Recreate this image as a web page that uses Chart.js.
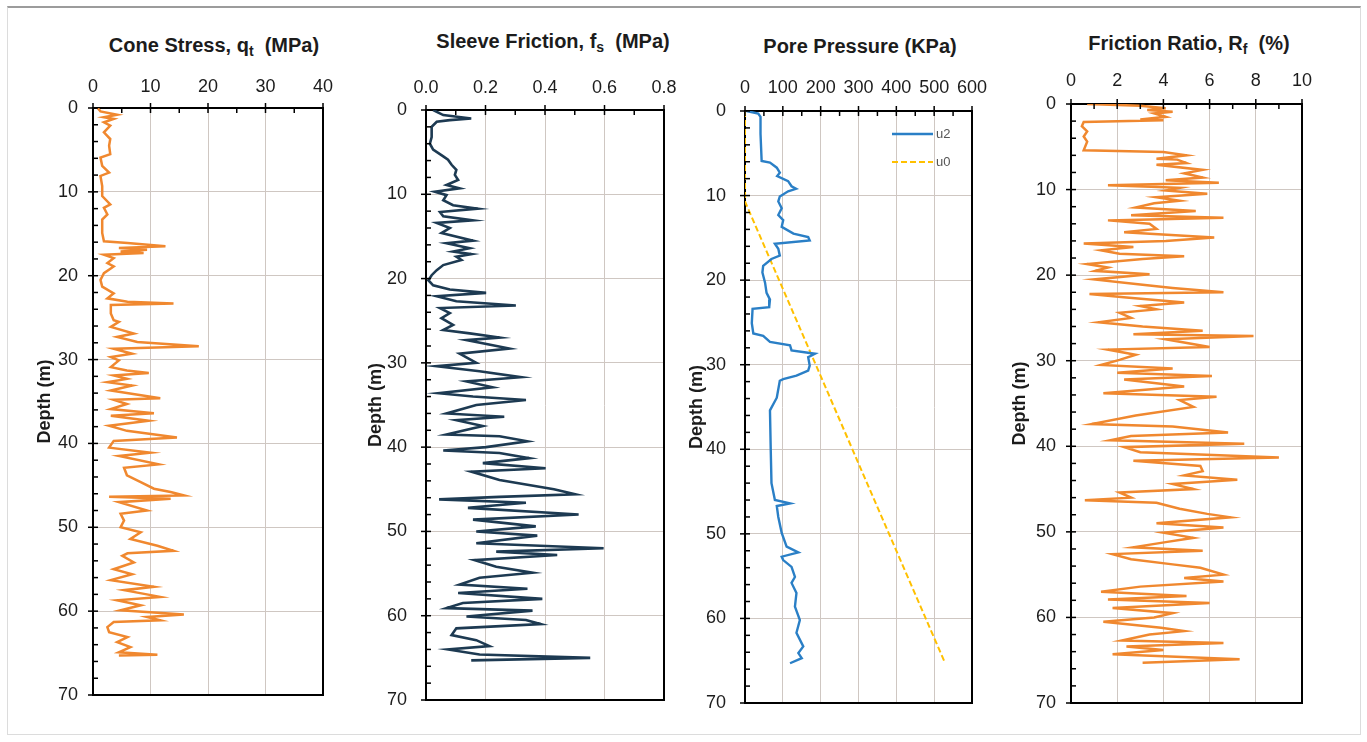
<!DOCTYPE html>
<html>
<head>
<meta charset="utf-8">
<title>CPT profile</title>
<script src="https://cdn.jsdelivr.net/npm/chart.js@4.4.1/dist/chart.umd.min.js"></script>
<style>
  html, body { margin: 0; padding: 0; background: #fff; }
  body { width: 1367px; height: 742px; position: relative; overflow: hidden;
         font-family: "Liberation Sans", Arial, sans-serif; }
  .sheet { position: absolute; left: 7px; top: 6px; width: 1352px; height: 726px;
           border: 1px solid #dcdcdc; border-top: 2px solid #9c9c9c; }
  canvas { position: absolute; top: 0; }
  .ttl { position: absolute; transform: translateX(-50%); white-space: nowrap;
         font-weight: bold; font-size: 20px; line-height: 20px; color: #1c1c1c; }
  .ttl sub { font-size: 14px; line-height: 0; vertical-align: -4px; }
</style>
</head>
<body>
<div class="sheet"></div>

<div class="ttl" style="left:214px; top:35px">Cone Stress, q<sub>t</sub>&nbsp; (MPa)</div>
<div class="ttl" style="left:553px; top:31px">Sleeve Friction, f<sub>s</sub>&nbsp; (MPa)</div>
<div class="ttl" style="left:860px; top:36px">Pore Pressure (KPa)</div>
<div class="ttl" style="left:1189px; top:33px">Friction Ratio, R<sub>f</sub>&nbsp; (%)</div>

<canvas id="qt" width="345" height="742" style="left:0px"></canvas>
<canvas id="fs" width="335" height="742" style="left:345px"></canvas>
<canvas id="pp" width="315" height="742" style="left:680px"></canvas>
<canvas id="rf" width="345" height="742" style="left:995px"></canvas>

<script>
// ---- tick labels ----
const depthTicks = ['0', '10', '20', '30', '40', '50', '60', '70'];
const qtTicks = ['0', '10', '20', '30', '40'];
const fsTicks = ['0.0', '0.2', '0.4', '0.6', '0.8'];
const ppTicks = ['0', '100', '200', '300', '400', '500', '600'];
const rfTicks = ['0', '2', '4', '6', '8', '10'];

// ---- cone stress qt (MPa) vs depth (m) ----
const qtDepth = [0, 0.4, 0.8, 1.1, 1.3, 1.7, 2.1, 2.9, 3.7, 4.5,
  5.5, 5.9, 6.9, 7.7, 8.1, 9.3, 10.5, 11.5, 11.9, 12.7,
  13.3, 14.9, 15.9, 16.1, 16.5, 16.7, 16.9, 17.1, 17.3, 17.5,
  17.9, 18.5, 18.9, 19.7, 20.5, 21.3, 22.1, 22.7, 23.1, 23.3,
  23.5, 24.5, 25.3, 25.5, 26.1, 26.9, 27.3, 27.9, 28.4, 28.7,
  29.3, 29.7, 30.1, 30.9, 31.3, 31.6, 31.9, 32.3, 32.7, 33.1,
  33.7, 34.6, 34.8, 35.3, 35.9, 36.4, 36.7, 37.3, 37.9, 38.5,
  39.3, 39.7, 40.5, 41.1, 41.5, 42.5, 42.9, 43.8, 44.6, 45.4,
  45.8, 46.2, 46.35, 46.6, 47.0, 48.0, 48.4, 49.2, 50.0, 50.6,
  51.4, 52.2, 52.8, 53.1, 53.4, 54.2, 55.0, 55.6, 56.3, 57.1,
  57.5, 58.3, 58.7, 59.3, 59.9, 60.4, 60.7, 61.1, 61.3, 61.9,
  62.5, 63.1, 63.7, 64.3, 64.9, 65.2, 65.3];
const qtVals = [0.8, 1.3, 4.2, 1.9, 3.6, 1.9, 3.0, 1.9, 3.0, 2.8,
  3.0, 1.3, 1.6, 2.8, 1.3, 1.6, 1.6, 3.0, 1.9, 2.5,
  1.6, 1.6, 1.9, 6.0, 12.6, 4.5, 9.4, 4.8, 8.8, 1.9,
  3.6, 2.5, 3.6, 1.9, 1.3, 1.6, 3.6, 2.5, 6.0, 14.0,
  3.1, 3.1, 3.6, 4.5, 3.1, 7.1, 4.2, 7.7, 18.4, 3.6,
  6.8, 3.1, 4.5, 3.1, 5.9, 9.7, 3.6, 5.9, 2.5, 6.8,
  3.1, 11.7, 3.6, 5.9, 3.1, 10.6, 3.1, 9.7, 2.8, 5.9,
  14.6, 3.6, 2.8, 10.0, 4.5, 11.4, 5.4, 5.9, 8.3, 10.6,
  13.5, 15.8, 2.8, 13.5, 4.5, 9.4, 4.8, 5.4, 4.8, 8.3,
  6.5, 11.2, 14.0, 6.0, 5.1, 7.1, 3.6, 6.8, 3.1, 10.6,
  5.4, 11.7, 4.2, 8.3, 4.8, 15.8, 9.4, 11.7, 3.6, 2.5,
  2.8, 6.0, 4.2, 6.5, 4.5, 11.2, 4.5];

// ---- sleeve friction fs (MPa) ----
const fsDepth = [0, 0.6, 1.0, 1.2, 1.4, 2.0, 3.2, 4.0, 4.7, 5.5,
  5.9, 6.5, 7.1, 7.7, 8.3, 8.9, 9.3, 9.7, 10.1, 10.7,
  11.3, 11.7, 12.1, 12.6, 13.1, 13.4, 14.0, 14.6, 15.5, 15.8,
  16.4, 16.8, 17.1, 17.4, 17.8, 18.4, 19.0, 19.6, 20.2, 20.8,
  21.3, 21.7, 22.1, 22.7, 23.2, 23.5, 24.1, 24.7, 25.5, 26.1,
  26.5, 27.0, 27.3, 28.3, 28.9, 30.0, 30.4, 31.0, 31.7, 32.2,
  32.9, 33.6, 34.0, 34.4, 35.0, 36.0, 36.4, 36.8, 37.5, 38.5,
  38.7, 39.3, 40.0, 40.4, 40.7, 41.3, 41.9, 42.5, 42.9, 43.9,
  45.0, 45.6, 45.9, 46.2, 46.6, 47.2, 48.0, 48.6, 49.4, 50.0,
  50.5, 51.4, 52.0, 52.4, 52.8, 53.4, 54.2, 54.9, 55.5, 56.3,
  56.8, 57.3, 58.0, 58.5, 59.1, 59.4, 60.1, 60.5, 61.0, 61.5,
  62.3, 62.9, 63.6, 64.0, 64.6, 65.0, 65.3];
const fsVals = [0.024, 0.058, 0.152, 0.080, 0.036, 0.019, 0.019, 0.013, 0.024, 0.058,
  0.074, 0.086, 0.102, 0.097, 0.108, 0.069, 0.113, 0.030, 0.069, 0.058,
  0.091, 0.174, 0.047, 0.058, 0.158, 0.036, 0.080, 0.052, 0.158, 0.069,
  0.147, 0.091, 0.152, 0.102, 0.119, 0.058, 0.036, 0.019, 0.008, 0.024,
  0.080, 0.202, 0.036, 0.102, 0.302, 0.047, 0.080, 0.052, 0.091, 0.058,
  0.147, 0.247, 0.136, 0.280, 0.113, 0.169, 0.036, 0.180, 0.319, 0.136,
  0.224, 0.041, 0.158, 0.336, 0.169, 0.069, 0.263, 0.102, 0.191, 0.069,
  0.247, 0.341, 0.202, 0.058, 0.247, 0.347, 0.191, 0.402, 0.152, 0.247,
  0.430, 0.502, 0.247, 0.044, 0.336, 0.141, 0.513, 0.158, 0.369, 0.169,
  0.374, 0.169, 0.597, 0.236, 0.441, 0.163, 0.236, 0.358, 0.180, 0.113,
  0.341, 0.108, 0.391, 0.124, 0.069, 0.358, 0.136, 0.336, 0.386, 0.102,
  0.086, 0.169, 0.213, 0.074, 0.180, 0.552, 0.152];

// ---- pore pressure (kPa): measured u2 and hydrostatic u0 ----
const u2Depth = [0, 0.3, 0.7, 2.7, 5.9, 6.1, 6.7, 7.3, 7.7, 8.3,
  8.9, 9.2, 9.5, 10.1, 10.7, 11.5, 12.3, 12.9, 13.7, 14.5,
  14.9, 15.3, 15.7, 16.3, 17.1, 17.5, 18.3, 19.1, 20.3, 21.5,
  22.3, 23.2, 23.4, 25.1, 26.3, 26.6, 27.3, 27.7, 28.3, 28.7,
  29.1, 30.1, 30.7, 31.3, 31.7, 31.9, 33.9, 35.4, 40.0, 44.0,
  46.0, 46.4, 46.7, 48.0, 49.9, 51.5, 52.2, 52.7, 53.1, 53.9,
  55.1, 55.8, 57.0, 58.6, 60.2, 61.7, 63.3, 64.1, 64.7, 65.3];
const u2Vals = [4, 35, 41, 41, 44, 66, 84, 92, 85, 114,
  123, 135, 114, 92, 88, 97, 88, 101, 97, 128,
  167, 171, 79, 88, 92, 70, 48, 46, 53, 57,
  66, 64, 20, 18, 22, 48, 66, 119, 123, 185,
  167, 171, 167, 136, 101, 92, 84, 66, 68, 70,
  79, 119, 84, 88, 97, 110, 141, 97, 101, 123,
  132, 123, 136, 132, 145, 136, 154, 141, 150, 119];
const u0Depth = [0, 10.7, 65.2];
const u0Vals = [0, 0, 528];

// ---- friction ratio Rf (%) ----
const rfDepth = [0, 0.2, 0.5, 0.7, 0.9, 1.1, 1.5, 1.8, 1.9, 2.1,
  2.6, 3.2, 3.8, 4.4, 5.4, 5.6, 6.0, 6.4, 6.5, 6.9,
  7.1, 7.7, 8.1, 8.6, 8.9, 9.2, 9.5, 9.8, 10.1, 10.5,
  10.9, 11.3, 11.6, 12.1, 12.5, 13.0, 13.3, 13.6, 14.0, 14.6,
  15.0, 15.6, 16.0, 16.3, 16.7, 17.1, 17.5, 17.8, 18.1, 18.7,
  19.1, 19.5, 19.9, 20.5, 21.1, 21.5, 22.0, 22.2, 22.6, 23.2,
  23.6, 24.0, 24.4, 25.0, 25.5, 26.0, 26.5, 26.9, 27.1, 27.5,
  28.4, 28.7, 29.3, 29.9, 30.5, 30.9, 31.4, 31.8, 32.2, 33.0,
  33.8, 34.2, 34.6, 35.4, 36.4, 37.4, 37.7, 38.4, 38.8, 39.3,
  39.7, 40.1, 40.7, 41.3, 41.7, 42.3, 42.9, 43.4, 43.9, 44.4,
  45.0, 45.4, 46.0, 46.3, 46.6, 47.3, 47.9, 48.3, 49.0, 49.5,
  50.1, 50.7, 51.2, 51.8, 52.2, 52.6, 53.2, 53.8, 54.2, 55.0,
  55.4, 55.8, 56.4, 57.0, 57.5, 57.9, 58.3, 58.9, 59.5, 60.0,
  60.5, 61.2, 61.6, 62.0, 62.7, 63.0, 63.4, 63.8, 64.3, 64.9,
  65.3];
const rfVals = [0.7, 3.0, 4.1, 3.3, 4.4, 3.6, 4.1, 3.0, 4.0, 0.55,
  0.47, 0.7, 0.55, 0.7, 0.55, 4.0, 5.0, 3.7, 4.6, 5.0,
  3.7, 5.7, 4.9, 5.7, 4.1, 6.4, 1.6, 4.7, 4.1, 5.9,
  3.7, 4.7, 3.6, 2.8, 5.4, 2.6, 6.6, 1.6, 3.4, 3.7,
  2.3, 6.2, 4.1, 0.55, 2.7, 1.3, 2.1, 4.9, 3.1, 0.7,
  1.6, 1.05, 3.4, 1.0, 3.0, 4.4, 6.6, 0.8, 2.4, 4.9,
  3.0, 3.7, 2.1, 2.6, 1.2, 3.1, 5.7, 2.7, 7.9, 4.1,
  6.0, 1.6, 2.8, 2.1, 1.3, 4.4, 2.0, 6.1, 2.3, 4.9,
  1.4, 6.3, 4.7, 5.3, 2.8, 0.9, 4.4, 6.8, 2.6, 1.7,
  7.5, 2.3, 3.0, 9.0, 2.7, 5.6, 5.7, 4.9, 7.2, 4.4,
  5.3, 2.1, 2.6, 0.6, 3.7, 4.7, 5.9, 6.9, 3.7, 6.6,
  4.0, 5.3, 4.1, 2.7, 5.7, 1.8, 2.6, 4.4, 5.6, 6.6,
  4.9, 6.6, 3.0, 1.3, 5.0, 1.6, 6.0, 1.8, 4.4, 3.6,
  1.4, 3.9, 4.9, 3.4, 2.2, 6.6, 2.4, 4.0, 1.8, 7.3,
  3.1];

const pairs = (depth, vals) => depth.map((d, i) => ({x: vals[i], y: d}));

const FONT = '"Liberation Sans", Arial, sans-serif';
const INK = '#1c1c1c';
const GRID = '#cfc7c2';

// black frame, depth ticks every 2 m and half-step ticks along the top axis
const frame = {
  id: 'frame',
  afterDraw(chart, args, opts) {
    const {ctx, chartArea: a, scales: {x, y}} = chart;
    ctx.save();
    ctx.strokeStyle = '#000';
    ctx.lineWidth = 1.5;
    for (let d = 0; d <= 70; d += 2) {
      const py = y.getPixelForValue(d);
      ctx.beginPath();
      ctx.moveTo(d % 10 === 0 ? a.left - 5 : a.left, py);
      ctx.lineTo(a.left + 5, py);
      ctx.stroke();
    }
    const n = Math.round((x.max - x.min) / opts.minor);
    for (let i = 0; i <= n; i++) {
      const px = x.getPixelForValue(x.min + i * opts.minor);
      ctx.beginPath();
      ctx.moveTo(px, i % 2 === 0 ? a.top - 5 : a.top);
      ctx.lineTo(px, a.top + 5);
      ctx.stroke();
    }
    ctx.lineWidth = 2;
    ctx.beginPath();
    ctx.moveTo(a.right, a.top);
    ctx.lineTo(a.right, a.bottom);
    ctx.lineTo(a.left - 1, a.bottom);
    ctx.stroke();
    ctx.restore();
  }
};

// small legend inside the plot area, built from the datasets
const innerLegend = {
  id: 'innerLegend',
  afterDraw(chart, args, opts) {
    if (!opts.show) return;
    const {ctx, chartArea: a} = chart;
    ctx.save();
    ctx.font = '13px ' + FONT;
    ctx.fillStyle = '#555';
    ctx.textBaseline = 'middle';
    chart.data.datasets.forEach((ds, i) => {
      const yy = a.top + opts.top + i * opts.gap;
      const x1 = a.right - opts.right;
      ctx.strokeStyle = ds.borderColor;
      ctx.lineWidth = ds.borderWidth;
      ctx.setLineDash(ds.borderDash || []);
      ctx.beginPath();
      ctx.moveTo(x1 - 41, yy);
      ctx.lineTo(x1, yy);
      ctx.stroke();
      ctx.fillText(ds.label, x1 + 3, yy);
    });
    ctx.restore();
  }
};

function panel(id, p) {
  new Chart(document.getElementById(id), {
    type: 'scatter',
    data: {datasets: p.datasets},
    options: {
      responsive: false,
      animation: false,
      events: [],
      layout: {padding: {left: 0, top: 0, right: p.padRight, bottom: p.padBottom}},
      elements: {point: {radius: 0}, line: {tension: 0}},
      plugins: {
        legend: {display: false},
        tooltip: {enabled: false},
        frame: {minor: p.minor},
        innerLegend: p.legend || {show: false}
      },
      scales: {
        x: {
          type: 'linear', position: 'top', min: p.xMin, max: p.xMax,
          ticks: {stepSize: p.step, padding: p.xPad, color: INK, autoSkip: false, maxRotation: 0,
                  font: {family: FONT, size: 18}, callback: (v, i) => p.xLabels[i]},
          grid: {color: GRID, lineWidth: 1, drawTicks: false},
          border: {color: '#000', width: 2},
          afterFit: s => { s.height = p.xH; s.paddingLeft = 0; s.paddingRight = 0; }
        },
        y: {
          type: 'linear', reverse: true, min: 0, max: 70,
          ticks: {stepSize: 10, padding: p.yPad, color: INK,
                  font: {family: FONT, size: 18}, callback: v => depthTicks[Math.round(v / 10)]},
          grid: {color: GRID, lineWidth: 1, drawTicks: false},
          border: {color: '#000', width: 2},
          title: {display: true, text: 'Depth (m)', color: INK,
                  font: {family: FONT, size: 18, weight: 'bold'}, padding: {top: p.titleGap, bottom: 0}},
          afterFit: s => { s.width = p.yW; s.paddingTop = 0; s.paddingBottom = 0; }
        }
      }
    },
    plugins: [frame, innerLegend]
  });
}

panel('qt', {
  datasets: [{label: 'qt', data: pairs(qtDepth, qtVals), showLine: true,
              borderColor: '#f0882f', borderWidth: 2.5}],
  xMin: 0, xMax: 40, step: 10, minor: 5, xLabels: qtTicks,
  yW: 93, xH: 108, padRight: 22, padBottom: 47, xPad: 10, yPad: 15, titleGap: 34
});

panel('fs', {
  datasets: [{label: 'fs', data: pairs(fsDepth, fsVals), showLine: true,
              borderColor: '#1d3a52', borderWidth: 2.6}],
  xMin: 0, xMax: 0.8, step: 0.2, minor: 0.1, xLabels: fsTicks,
  yW: 81, xH: 110, padRight: 16, padBottom: 42, xPad: 11, yPad: 19, titleGap: 20
});

panel('pp', {
  datasets: [
    {label: 'u2', data: pairs(u2Depth, u2Vals), showLine: true,
     borderColor: '#2a7fc6', borderWidth: 2.4},
    {label: 'u0', data: pairs(u0Depth, u0Vals), showLine: true,
     borderColor: '#ffc000', borderWidth: 2, borderDash: [6, 3]}
  ],
  xMin: 0, xMax: 600, step: 100, minor: 50, xLabels: ppTicks,
  yW: 65, xH: 111, padRight: 23, padBottom: 39, xPad: 12, yPad: 19, titleGap: 6,
  legend: {show: true, top: 23, gap: 28, right: 39}
});

panel('rf', {
  datasets: [{label: 'Rf', data: pairs(rfDepth, rfVals), showLine: true,
              borderColor: '#f0882f', borderWidth: 2.5}],
  xMin: 0, xMax: 10, step: 2, minor: 1, xLabels: rfTicks,
  yW: 76, xH: 104, padRight: 38, padBottom: 39, xPad: 12, yPad: 15, titleGap: 14
});
</script>
</body>
</html>
